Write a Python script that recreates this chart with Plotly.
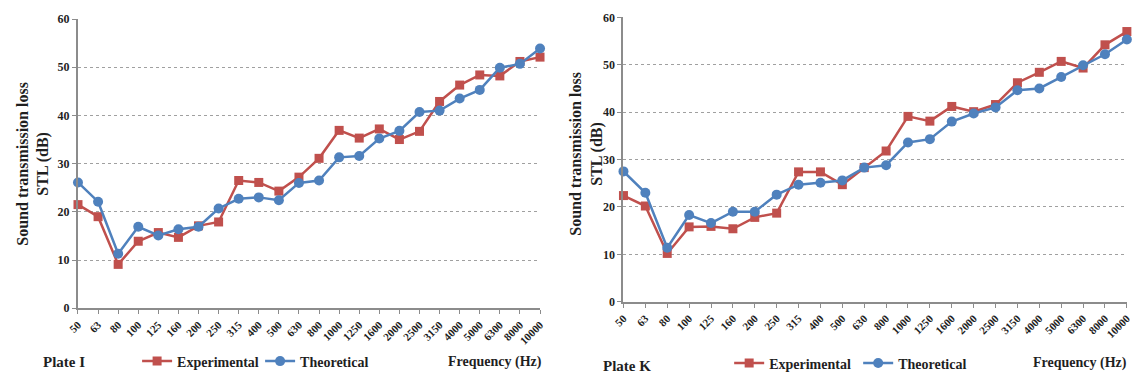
import plotly.graph_objects as go

freq_labels = ["50", "63", "80", "100", "125", "160", "200", "250", "315", "400", "500", "630",
               "800", "1000", "1250", "1600", "2000", "2500", "3150", "4000", "5000", "6300", "8000", "10000"]

plate_i_experimental = [21.5, 19.0, 9.1, 13.9, 15.7, 14.7, 17.1, 17.9, 26.5, 26.1, 24.3, 27.2,
                        31.1, 36.9, 35.3, 37.2, 35.0, 36.7, 42.9, 46.3, 48.4, 48.2, 51.2, 52.1]
plate_i_theoretical = [26.1, 22.1, 11.3, 16.9, 15.1, 16.4, 16.9, 20.7, 22.7, 23.0, 22.4, 26.0,
                       26.5, 31.3, 31.6, 35.2, 36.8, 40.7, 41.0, 43.5, 45.3, 49.9, 50.7, 53.9]
plate_k_experimental = [22.4, 20.2, 10.2, 15.8, 15.9, 15.4, 17.8, 18.7, 27.4, 27.4, 24.7, 28.3,
                        31.8, 39.1, 38.1, 41.2, 40.1, 41.6, 46.2, 48.4, 50.7, 49.3, 54.2, 57.0]
plate_k_theoretical = [27.5, 23.0, 11.4, 18.3, 16.6, 19.0, 19.0, 22.6, 24.7, 25.1, 25.6, 28.3,
                       28.8, 33.6, 34.3, 38.0, 39.7, 41.0, 44.6, 45.0, 47.4, 49.9, 52.2, 55.3]

RED = "#C0504D"
BLUE = "#4F81BD"
W, H = 1144, 382
FONT = "Liberation Serif"
TXT = "#1f1f1f"

def px_x(v):
    return v / W

def px_y(v):
    return 1 - v / H

fig = go.Figure()

for (exp, theo, xa, ya, leg) in [
    (plate_i_experimental, plate_i_theoretical, "x", "y", "legend"),
    (plate_k_experimental, plate_k_theoretical, "x2", "y2", "legend2"),
]:
    fig.add_trace(go.Scatter(x=freq_labels, y=exp, xaxis=xa, yaxis=ya, name="Experimental",
                             mode="lines+markers", cliponaxis=False, legend=leg,
                             line=dict(color=RED, width=2.5),
                             marker=dict(symbol="square", size=9, color=RED)))
    fig.add_trace(go.Scatter(x=freq_labels, y=theo, xaxis=xa, yaxis=ya, name="Theoretical",
                             mode="lines+markers", cliponaxis=False, legend=leg,
                             line=dict(color=BLUE, width=2.5),
                             marker=dict(symbol="circle", size=10, color=BLUE)))

tickfont_x = dict(family=FONT, size=11, color=TXT, weight="bold")
tickfont_y = dict(family=FONT, size=12, color=TXT, weight="bold")

def xaxis(domain, anchor):
    return dict(domain=domain, anchor=anchor, type="category", range=[0, 23],
                tickangle=-45, tickfont=tickfont_x, showgrid=False,
                showline=True, linecolor="#8c8c8c", linewidth=2,
                ticks="outside", ticklen=4, tickcolor="#8c8c8c", zeroline=False)

def yaxis(domain, anchor):
    return dict(domain=domain, anchor=anchor, range=[0, 60], dtick=10,
                tickfont=tickfont_y, showgrid=True, gridcolor="#a0a0a0",
                griddash="dot", gridwidth=1,
                showline=True, linecolor="#8c8c8c", linewidth=2,
                ticks="outside", ticklen=4, tickcolor="#8c8c8c", zeroline=False)

legfont = dict(family=FONT, size=14, color=TXT, weight="bold")

fig.update_layout(
    width=W, height=H,
    margin=dict(l=0, r=0, t=0, b=0),
    paper_bgcolor="white", plot_bgcolor="white",
    xaxis=xaxis([px_x(68), px_x(537)], "y"),
    yaxis=yaxis([px_y(312.7), px_y(12.5)], "x"),
    xaxis2=xaxis([px_x(621.7), px_x(1132.7)], "y2"),
    yaxis2=yaxis([px_y(306), px_y(10.7)], "x2"),
    legend=dict(orientation="h", x=px_x(128), y=px_y(368), xanchor="left", yanchor="middle",
                font=legfont, itemwidth=30,
                entrywidth=78, entrywidthmode="pixels", bgcolor="rgba(0,0,0,0)"),
    legend2=dict(orientation="h", x=px_x(729), y=px_y(370), xanchor="left", yanchor="middle",
                 font=legfont, itemwidth=30,
                 entrywidth=84, entrywidthmode="pixels", bgcolor="rgba(0,0,0,0)"),
    showlegend=True,
)

annotations = [
    dict(text="<b>Sound transmission loss<br>STL (dB)</b>", x=px_x(22), y=px_y(163),
         textangle=-90, font=dict(family=FONT, size=16, color=TXT)),
    dict(text="<b>Sound transmission loss<br>STL (dB)</b>", x=px_x(584), y=px_y(152),
         textangle=-90, font=dict(family=FONT, size=16, color=TXT)),
    dict(text="<b>Plate I</b>", x=px_x(54), y=px_y(369), font=dict(family=FONT, size=15, color=TXT)),
    dict(text="<b>Plate K</b>", x=px_x(625), y=px_y(373), font=dict(family=FONT, size=15, color=TXT)),
    dict(text="<b>Frequency (Hz)</b>", x=px_x(491), y=px_y(368), font=dict(family=FONT, size=14, color=TXT)),
    dict(text="<b>Frequency (Hz)</b>", x=px_x(1085), y=px_y(370), font=dict(family=FONT, size=14, color=TXT)),
]
for a in annotations:
    a.update(xref="paper", yref="paper", showarrow=False, xanchor="center", yanchor="middle")
fig.update_layout(annotations=annotations)

fig.write_html("out.html", config={"displayModeBar": False},
               post_script="document.body.style.margin='0';")
